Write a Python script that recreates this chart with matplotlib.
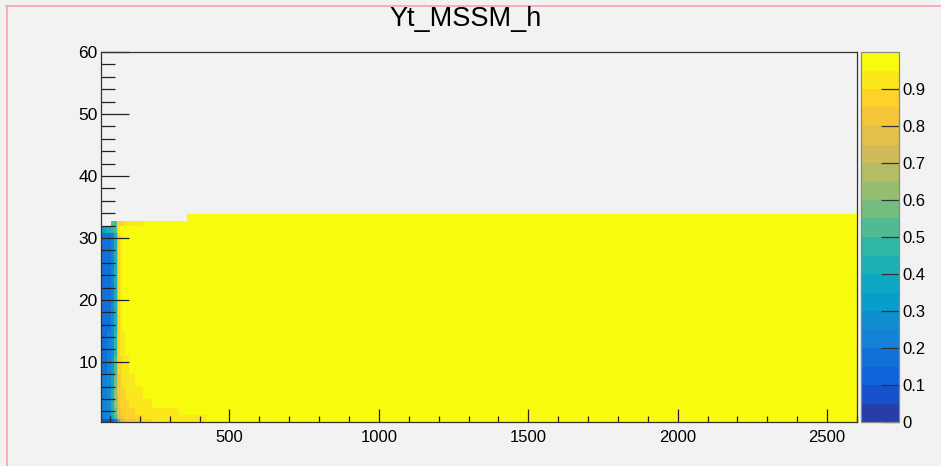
import matplotlib
matplotlib.use("Agg")
import matplotlib.pyplot as plt
import numpy as np
from matplotlib.colors import LinearSegmentedColormap, ListedColormap, Normalize
from matplotlib.ticker import MultipleLocator, FixedLocator
from matplotlib.lines import Line2D

plt.rcParams['font.family'] = ['Liberation Sans', 'DejaVu Sans']

# --- data (bin edges and bin contents) ---
title = "Yt_MSSM_h"
x_edges = [70, 90, 105, 115, 122, 127, 133, 140, 150, 165, 185, 210, 240, 280,
           330, 358, 420, 500, 2600]
y_edges = [0.3, 0.8, 1.5, 2.5, 4, 6, 8, 11, 15, 20, 25, 30.8, 31.9, 32.7, 33.9]
nan = np.nan
z_rows = [
    [0.05, 0.08, 0.12, 0.20, 0.35, 0.50, 0.65, 0.75, 0.80, 0.84, 0.86, 0.88, 0.90, 0.91, 0.92, 0.93, 0.96, 1.00],
    [0.20, 0.25, 0.35, 0.50, 0.65, 0.75, 0.80, 0.84, 0.86, 0.88, 0.89, 0.90, 0.91, 0.92, 0.93, 0.94, 0.97, 1.00],
    [0.22, 0.28, 0.40, 0.55, 0.70, 0.78, 0.83, 0.86, 0.88, 0.89, 0.90, 0.92, 0.93, 0.94, 0.96, 1.00, 1.00, 1.00],
    [0.22, 0.28, 0.42, 0.60, 0.72, 0.80, 0.85, 0.87, 0.89, 0.90, 0.92, 0.93, 0.96, 1.00, 1.00, 1.00, 1.00, 1.00],
    [0.20, 0.26, 0.40, 0.60, 0.75, 0.82, 0.86, 0.88, 0.90, 0.92, 0.94, 0.97, 1.00, 1.00, 1.00, 1.00, 1.00, 1.00],
    [0.20, 0.25, 0.38, 0.58, 0.76, 0.84, 0.87, 0.90, 0.92, 0.94, 1.00, 1.00, 1.00, 1.00, 1.00, 1.00, 1.00, 1.00],
    [0.18, 0.22, 0.33, 0.52, 0.76, 0.85, 0.89, 0.92, 0.94, 1.00, 1.00, 1.00, 1.00, 1.00, 1.00, 1.00, 1.00, 1.00],
    [0.18, 0.20, 0.28, 0.45, 0.75, 0.86, 0.90, 0.93, 1.00, 1.00, 1.00, 1.00, 1.00, 1.00, 1.00, 1.00, 1.00, 1.00],
    [0.17, 0.19, 0.25, 0.42, 0.72, 0.86, 0.92, 1.00, 1.00, 1.00, 1.00, 1.00, 1.00, 1.00, 1.00, 1.00, 1.00, 1.00],
    [0.17, 0.19, 0.24, 0.40, 0.70, 0.86, 0.93, 1.00, 1.00, 1.00, 1.00, 1.00, 1.00, 1.00, 1.00, 1.00, 1.00, 1.00],
    [0.17, 0.19, 0.24, 0.40, 0.70, 0.86, 0.93, 1.00, 1.00, 1.00, 1.00, 1.00, 1.00, 1.00, 1.00, 1.00, 1.00, 1.00],
    [0.35, 0.40, 0.48, 0.50, 0.85, 0.90, 0.95, 1.00, 1.00, 1.00, 1.00, 1.00, 1.00, 1.00, 1.00, 1.00, 1.00, 1.00],
    [nan, nan, 0.50, 0.50, 0.85, 0.85, 0.88, 0.88, 0.90, 0.90, 0.92, 0.95, 1.00, 1.00, 1.00, 1.00, 1.00, 1.00],
    [nan, nan, nan, nan, nan, nan, nan, nan, nan, nan, nan, nan, nan, nan, nan, 1.00, 1.00, 1.00],
]
z_ticks = [0, 0.1, 0.2, 0.3, 0.4, 0.5, 0.6, 0.7, 0.8, 0.9]

# --- ROOT kBird palette, 20 contour levels ---
stops = [0.0, 0.125, 0.25, 0.375, 0.5, 0.625, 0.75, 0.875, 1.0]
red = [0.2082, 0.0592, 0.0780, 0.0232, 0.1802, 0.5301, 0.8186, 0.9956, 0.9764]
green = [0.1664, 0.3599, 0.5041, 0.6419, 0.7178, 0.7492, 0.7328, 0.7862, 0.9832]
blue = [0.5293, 0.8684, 0.8385, 0.7914, 0.6425, 0.4662, 0.3499, 0.1968, 0.0539]
bird = LinearSegmentedColormap.from_list(
    "bird", list(zip(stops, zip(red, green, blue))), N=255)
n_levels = 20
band_cols = [bird(int((i + 0.99) * 255 / n_levels) / 254) for i in range(n_levels)]
cmap = ListedColormap(band_cols)
norm = Normalize(vmin=0, vmax=1)

bg = '#f2f2f2'
W, H = 941, 466
fig = plt.figure(figsize=(W / 100, H / 100), dpi=100, facecolor=bg)

def px_box(x0, y0, x1, y1):
    return [x0 / W, 1 - y1 / H, (x1 - x0) / W, (y1 - y0) / H]

ax = fig.add_axes(px_box(101, 52, 857, 422))
ax.set_facecolor(bg)

z = np.ma.masked_invalid(np.array(z_rows))
ax.pcolormesh(x_edges, y_edges, z, cmap=cmap, norm=norm, shading='flat')
ax.set_xlim(70, 2600)
ax.set_ylim(0.3, 60)

ax.xaxis.set_major_locator(FixedLocator([500, 1000, 1500, 2000, 2500]))
ax.xaxis.set_minor_locator(MultipleLocator(100))
ax.yaxis.set_major_locator(FixedLocator([10, 20, 30, 40, 50, 60]))
ax.yaxis.set_minor_locator(MultipleLocator(2))
ax.tick_params(axis='x', which='major', direction='in', length=9.5, width=0.9,
               color='#222222', labelsize=12, pad=6, top=False)
ax.tick_params(axis='x', which='minor', direction='in', length=4.5, width=0.9,
               color='#222222', top=False)
ax.tick_params(axis='y', which='major', direction='in', length=20, width=0.9,
               color='#222222', labelsize=12.5, pad=2.5, right=False)
ax.tick_params(axis='y', which='minor', direction='in', length=10, width=0.9,
               color='#222222', right=False)
for s in ax.spines.values():
    s.set_color('#333333')
    s.set_linewidth(0.9)

# --- colour scale ---
cax = fig.add_axes(px_box(861, 52, 899, 422))
cb = fig.colorbar(plt.cm.ScalarMappable(norm=norm, cmap=cmap), cax=cax,
                  boundaries=np.linspace(0, 1, n_levels + 1))
cb.set_ticks(z_ticks)
cb.set_ticklabels([f"{t:g}" for t in z_ticks])
cax.tick_params(direction='in', length=13, width=0.9, color='#333333',
                labelsize=12, pad=2.5)
cax.minorticks_off()
cb.outline.set_edgecolor('#888888')
cb.outline.set_linewidth(0.9)

fig.text(466 / W, 1 - 19 / H, title, ha='center', va='center', fontsize=19.5)

# pink frame edges of the screenshot
fig.add_artist(Line2D([6 / W, 1], [1 - 5.5 / H] * 2, transform=fig.transFigure,
                      color='#ff9ea8', lw=1.2))
fig.add_artist(Line2D([6.5 / W] * 2, [0, 1 - 5.5 / H], transform=fig.transFigure,
                      color='#ff9ea8', lw=1.2))

fig.savefig("out.png", dpi=100, facecolor=bg)
